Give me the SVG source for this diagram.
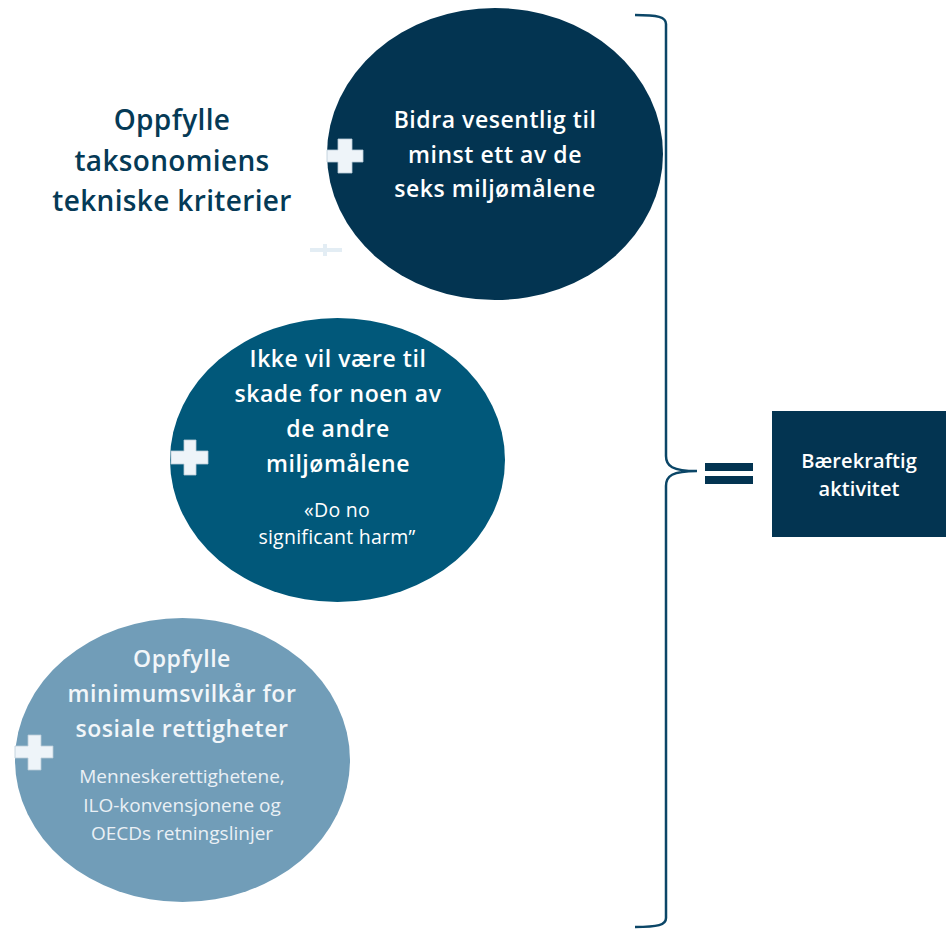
<svg xmlns="http://www.w3.org/2000/svg" width="948" height="930" viewBox="0 0 948 930">
<style>
.hd{font-family:"Open Sans","Liberation Sans",sans-serif;font-weight:600;text-anchor:middle}
.sm{font-family:"Open Sans","Liberation Sans",sans-serif;font-weight:400;text-anchor:middle}
.c{font-size:23px;letter-spacing:0.55px}
.w{fill:#ffffff}
.plus{fill:#eef4f9;stroke:#b9cbd8;stroke-width:0.8}
</style>
<rect width="948" height="930" fill="#ffffff"/>
<g id="title">
<text class="hd" font-size="28" letter-spacing="0.35" fill="#053a56" x="172" y="130">Oppfylle</text>
<text class="hd" font-size="28" letter-spacing="0.35" fill="#053a56" x="172" y="171">taksonomiens</text>
<text class="hd" font-size="28" letter-spacing="0.35" fill="#053a56" x="172" y="211">tekniske kriterier</text>
</g>
<g id="faint-plus">
<rect x="310" y="248" width="32" height="4" fill="#e3edf4"/>
<rect x="323" y="244" width="4" height="12" fill="#e3edf4"/>
</g>
<g id="node1">
<ellipse cx="495" cy="154" rx="168" ry="146" fill="#033451"/>
<text class="hd w c" x="495" y="128">Bidra vesentlig til</text>
<text class="hd w c" x="495" y="163">minst ett av de</text>
<text class="hd w c" x="495" y="197">seks miljømålene</text>
<path class="plus" d="M338,139 H352 V150 H363 V162 H352 V173 H338 V162 H327 V150 H338 Z"/>
</g>
<g id="node2">
<ellipse cx="337.5" cy="460" rx="167.5" ry="142" fill="#01587a"/>
<text class="hd w c" x="338" y="367">Ikke vil være til</text>
<text class="hd w c" x="338" y="402">skade for noen av</text>
<text class="hd w c" x="338" y="437">de andre</text>
<text class="hd w c" x="338" y="472">miljømålene</text>
<text class="sm w" font-size="19.5" letter-spacing="0.25" font-weight="500" x="337" y="517">«Do no</text>
<text class="sm w" font-size="19.5" letter-spacing="0.25" font-weight="500" x="337" y="544">significant harm”</text>
<path class="plus" d="M184,440 H196 V451 H208 V464 H196 V475 H184 V464 H171 V451 H184 Z"/>
</g>
<g id="node3">
<ellipse cx="182.5" cy="760" rx="167.5" ry="142" fill="#719db8"/>
<text class="hd c" fill="#f2f6f9" x="182" y="667">Oppfylle</text>
<text class="hd c" fill="#f2f6f9" x="182" y="702">minimumsvilkår for</text>
<text class="hd c" fill="#f2f6f9" x="182" y="737">sosiale rettigheter</text>
<text class="sm" font-size="19" fill="#eaf0f5" x="182" y="783">Menneskerettighetene,</text>
<text class="sm" font-size="19" fill="#eaf0f5" x="182" y="812">ILO-konvensjonene og</text>
<text class="sm" font-size="19" fill="#eaf0f5" x="182" y="840">OECDs retningslinjer</text>
<path class="plus" d="M28,735 H41 V746 H53 V758 H41 V770 H28 V758 H15 V746 H28 Z"/>
</g>
<g id="connectors">
<path d="M635,15 C658,15 666,17 666,24 L666,456 C666,466 672,471 697,471 C672,471 666,476 666,486 L666,918 C666,925 658,927 635,927" fill="none" stroke="#0b4667" stroke-width="2.5"/>
</g>
<g id="equals">
<rect x="705" y="463" width="48" height="8" fill="#033451"/>
<rect x="705" y="476" width="48" height="8" fill="#033451"/>
</g>
<g id="result">
<rect x="772" y="411" width="174" height="126" fill="#033451"/>
<text class="hd w" font-size="20" font-weight="500" letter-spacing="0.1" x="859" y="468">Bærekraftig</text>
<text class="hd w" font-size="20" font-weight="500" letter-spacing="0.1" x="859" y="496">aktivitet</text>
</g>
</svg>
